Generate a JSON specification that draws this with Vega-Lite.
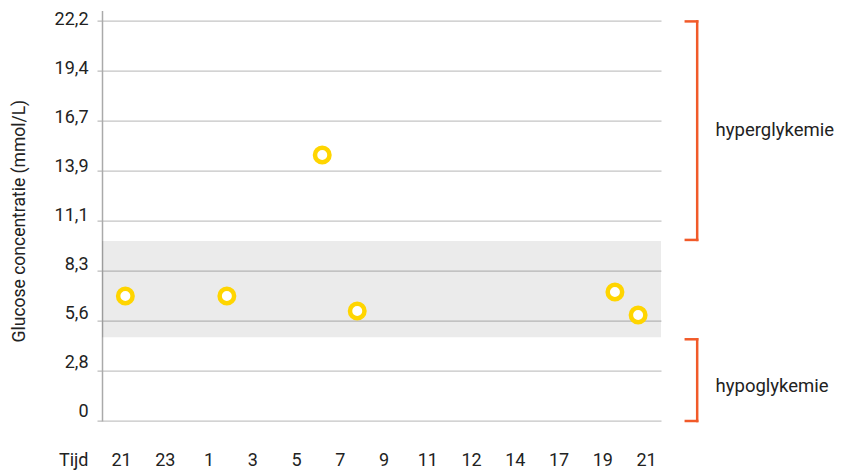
{
  "$schema": "https://vega.github.io/schema/vega-lite/v6.json",
  "width": 559,
  "height": 410.4,
  "autosize": {"type": "none"},
  "padding": {"left": 102, "top": 10.6, "right": 187, "bottom": 52},
  "config": {
    "view": {"stroke": null},
    "font": "Roboto",
    "axis": {"labelColor": "#222222", "titleColor": "#222222", "labelFont": "Roboto", "titleFont": "Roboto"},
    "text": {"font": "Roboto"}
  },
  "datasets": {
    "metingen": [
      {"tijdstip": 0.10, "glucose": 6.94},
      {"tijdstip": 2.42, "glucose": 6.94},
      {"tijdstip": 4.60, "glucose": 14.78},
      {"tijdstip": 5.40, "glucose": 6.11},
      {"tijdstip": 11.29, "glucose": 7.17},
      {"tijdstip": 11.82, "glucose": 5.89}
    ],
    "normaal": [{"van": 4.65, "tot": 10.0}],
    "zones": [
      {"label": "hyperglykemie", "onder": 10.06, "boven": 22.2, "tekst": 16.17},
      {"label": "hypoglykemie", "onder": 0, "boven": 4.54, "tekst": 1.96}
    ]
  },
  "layer": [
    {
      "data": {"name": "normaal"},
      "mark": {"type": "rect", "color": "#000000", "opacity": 0.08},
      "encoding": {
        "y": {"field": "van", "type": "quantitative", "scale": {"domain": [0, 22.8], "nice": false, "zero": false}},
        "y2": {"field": "tot"}
      }
    },
    {
      "data": {"name": "metingen"},
      "mark": {"type": "point", "shape": "circle", "filled": false, "fill": "#ffffff", "fillOpacity": 1, "stroke": "#FFD500", "strokeWidth": 4.5, "size": 210, "opacity": 1},
      "encoding": {
        "x": {
          "field": "tijdstip", "type": "quantitative",
          "scale": {"domain": [-0.434, 12.343], "nice": false, "zero": false},
          "axis": {
            "values": [0, 1, 2, 3, 4, 5, 6, 7, 8, 9, 10, 11, 12],
            "labelExpr": "['21','23','1','3','5','7','9','11','12','14','17','19','21'][datum.value]",
            "ticks": false, "tickSize": 0, "domain": false, "grid": false,
            "labelPadding": 39, "labelBaseline": "middle", "labelFontSize": 18, "labelFlush": false,
            "title": "Tijd", "titleX": -14, "titleY": 39, "titleAlign": "right", "titleBaseline": "middle",
            "titleFontWeight": "normal", "titleFontSize": 18
          }
        },
        "y": {
          "field": "glucose", "type": "quantitative",
          "scale": {"domain": [0, 22.8], "nice": false, "zero": false},
          "axis": {
            "values": [0, 2.7778, 5.5556, 8.3333, 11.1111, 13.8889, 16.6667, 19.4444, 22.2222],
            "labelExpr": "datum.value === 0 ? '0' : replace(format(datum.value, '.1f'), '.', ',')",
            "tickSize": 5, "tickColor": "#aaaaaa", "domainColor": "#aaaaaa", "domainWidth": 1.5,
            "gridColor": "#b5b5b5", "gridWidth": 1,
            "labelPadding": 9, "labelFontSize": 18,
            "labelOffset": {"expr": "-1.5 - 8 * (1 - datum.value / 22.222)"},
            "title": "Glucose concentratie (mmol/L)", "titleFontSize": 17.5, "titleFontWeight": "normal",
            "titleX": -83, "titleY": 210, "titleAngle": -90, "titleAlign": "center", "titleBaseline": "middle"
          }
        }
      }
    },
    {
      "data": {"name": "zones"},
      "mark": {"type": "rule", "color": "#F15A29", "strokeWidth": 2.5, "strokeCap": "square"},
      "encoding": {
        "x": {"datum": 13.17, "type": "quantitative", "scale": {"domain": [-0.434, 12.343], "nice": false, "zero": false}},
        "y": {"field": "onder", "type": "quantitative"},
        "y2": {"field": "boven"}
      }
    },
    {
      "data": {"name": "zones"},
      "mark": {"type": "rule", "color": "#F15A29", "strokeWidth": 2.5, "strokeCap": "square"},
      "encoding": {
        "x": {"datum": 12.91, "type": "quantitative"},
        "x2": {"datum": 13.17},
        "y": {"field": "onder", "type": "quantitative"}
      }
    },
    {
      "data": {"name": "zones"},
      "mark": {"type": "rule", "color": "#F15A29", "strokeWidth": 2.5, "strokeCap": "square"},
      "encoding": {
        "x": {"datum": 12.91, "type": "quantitative"},
        "x2": {"datum": 13.17},
        "y": {"field": "boven", "type": "quantitative"}
      }
    },
    {
      "data": {"name": "zones"},
      "mark": {"type": "text", "align": "left", "baseline": "middle", "fontSize": 18.5, "color": "#222222"},
      "encoding": {
        "x": {"datum": 13.59, "type": "quantitative"},
        "y": {"field": "tekst", "type": "quantitative"},
        "text": {"field": "label"}
      }
    }
  ]
}
